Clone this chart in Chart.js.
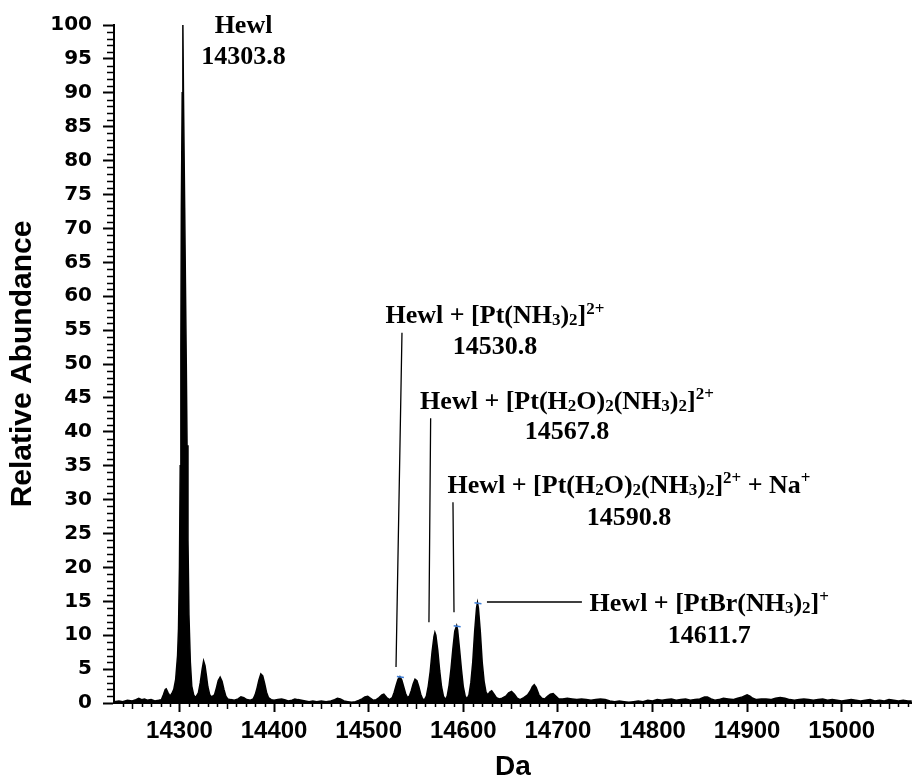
<!DOCTYPE html>
<html><head><meta charset="utf-8">
<script src="https://cdn.jsdelivr.net/npm/chart.js@4"></script>
<style>html,body{margin:0;padding:0;background:#fff}</style>
</head><body>
<canvas id="c" width="912" height="781"></canvas>
<script>
// ---- data ----
const massDa = [
14231,14236,14240,14245,14250,14254,14257,14260,14263,14266,14270,14274,14278,
14281,14283,14285,14286,14288,14290,14292,
14294,14296,14298,14299,14300,14300.8,14301.5,14302,14302.9,14303.6,14304.2,14305.5,14306.3,14307.2,14308,14309,14310,14311.5,14313,14315,14317,
14320,14322,14324,14325.5,14327,14328.5,14330,14332,14334,
14337,14339,14341,14343,14345,14347,14349,14351,14354,
14358,14362,14365,14368,14371,14375,
14378,14380,14382,14384,14386,14388,14390,14392,14394,14397,
14400,14404,14408,14411,14415,14419,14422,14425,14429,14433,14437,14441,14445,14450,14455,14460,14464,14467,14470,14474,14478,14482,14486,14490,
14493,14496,14499,14502,14505,14508,
14511,14514,14516,14519,14522,
14525,14527,14529,14531,14533,14535,14537,14539,14541,
14543,14545,14547,14549,14551,14553,14555,14557,14559,
14561,14563,14565,14567,14569,14570,14571,14573,14575,14577,14579,14581,
14583,14585,14587,14589,14591,14593,14594,14596,14598,14600,14602,14604,
14606,14608,14610,14612,14614,14615,14616,14618,14620,14622,14624,14626,
14628,14630,14632,14635,14638,14641,
14645,14648,14651,14654,14657,14660,14664,
14668,14671,14673,14675,14677,14680,14683,14686,14689,
14692,14695,14698,14701,14705,
14710,14715,14720,14725,14730,14735,14740,14745,14750,14755,14760,14765,14770,14775,14780,14785,14790,14795,14800,
14805,14810,14815,14820,14825,14830,14835,14840,14845,14850,14855,14858,14862,14866,14870,14875,14880,14885,14890,14895,
14900,14903,14906,14910,14915,14920,14925,14930,14935,14940,14945,14950,14955,14960,14965,14970,14975,14980,14985,14990,14995,
15000,15005,15010,15015,15020,15025,15030,15035,15040,15045,15050,15055,15060,15065,15070,15074
];
const abundance = [
0.2,0.3,0.2,0.4,0.3,0.5,0.7,0.5,0.6,0.4,0.5,0.3,0.4,
0.5,1.2,2.0,2.1,1.5,1.0,1.4,
2.0,3.5,7,11,20,35,52,73,90,100,90,73,62,50,38,24,13,6,2.5,1.2,0.8,
1.5,3.0,5.0,6.2,5.5,4.0,2.4,1.2,0.9,
1.2,2.2,3.3,3.8,3.2,2.0,1.0,0.6,0.5,
0.4,0.6,0.9,0.8,0.5,0.4,
0.6,1.2,2.2,3.4,4.3,4.0,2.9,1.6,0.8,0.5,
0.4,0.5,0.6,0.5,0.3,0.4,0.6,0.5,0.4,0.3,0.2,0.3,0.2,0.3,0.2,0.3,0.5,0.7,0.6,0.3,0.2,0.1,0.2,0.4,
0.6,0.9,1.0,0.7,0.4,0.5,
0.8,1.2,1.3,0.8,0.5,
0.8,1.6,2.6,3.5,3.9,3.4,2.4,1.4,0.8,
1.0,1.8,2.8,3.5,3.3,2.4,1.3,0.6,0.5,
1.0,2.5,4.6,7.5,9.8,10.4,10.0,7.8,4.8,2.4,1.0,0.5,
1.0,2.6,5.0,8.0,10.6,11.4,10.8,8.0,5.0,2.4,1.0,0.6,
1.2,3.0,6.0,10.5,14.0,14.8,14.0,10.5,6.0,3.2,1.6,1.2,
1.6,1.8,1.4,0.8,0.6,0.7,
1.0,1.5,1.7,1.3,0.7,0.5,0.8,
1.2,1.8,2.4,2.7,2.3,1.2,0.7,0.6,1.0,
1.3,1.4,1.0,0.6,0.6,
0.7,0.6,0.5,0.6,0.5,0.4,0.5,0.6,0.5,0.3,0.2,0.3,0.2,0.1,0.2,0.3,0.2,0.4,0.3,
0.5,0.4,0.5,0.6,0.4,0.5,0.6,0.4,0.5,0.6,0.9,0.9,0.6,0.4,0.5,0.7,0.6,0.5,0.7,0.9,
1.2,1.0,0.7,0.5,0.6,0.6,0.5,0.7,0.8,0.7,0.5,0.4,0.5,0.6,0.5,0.4,0.5,0.6,0.4,0.5,0.4,
0.3,0.4,0.5,0.4,0.3,0.4,0.5,0.3,0.4,0.3,0.5,0.4,0.3,0.4,0.3,0.3
];
const xTickValues = [14300,14400,14500,14600,14700,14800,14900,15000];
const yTickValues = [0,5,10,15,20,25,30,35,40,45,50,55,60,65,70,75,80,85,90,95,100];

// peak annotations: label lines and their labelled masses
const annLabels = [
  "Hewl",
  "Hewl + [Pt(NH_3)_2]^{2+}",
  "Hewl + [Pt(H_2O)_2(NH_3)_2]^{2+}",
  "Hewl + [Pt(H_2O)_2(NH_3)_2]^{2+} + Na^{+}",
  "Hewl + [PtBr(NH_3)_2]^{+}"
];
const annMasses = ["14303.8","14530.8","14567.8","14590.8","14611.7"];

// annotation placement (data space: Da, abundance)
const annPlace = [
  {cx:14367.7, y1:98.8, y2:94.2},
  {cx:14633.5, y1:56.0, y2:51.5},
  {cx:14709.6, y1:43.4, y2:38.9},
  {cx:14775.2, y1:31.0, y2:26.3},
  {cx:14860.0, y1:13.5, y2:8.8}
];
const leaderLines = [
  [[14535.2,54.6],[14528.9,5.3]],
  [[14565.5,42.0],[14563.7,11.9]],
  [[14589.1,29.6],[14590.2,13.4]],
  [[14625.0,14.9],[14725.4,14.9]]
];
const blueMarks = [[14533,3.9],[14593,11.4],[14615,14.8]];

// ---- helpers ----
function parseRich(s){
  const segs=[]; let i=0;
  while(i<s.length){
    const c=s[i];
    if(c==='_'){ segs.push({t:s[i+1],m:'sub'}); i+=2; }
    else if(c==='^'){ const j=s.indexOf('}',i); segs.push({t:s.slice(i+2,j),m:'sup'}); i=j+1; }
    else { let j=i; while(j<s.length && s[j]!=='_' && s[j]!=='^') j++; segs.push({t:s.slice(i,j),m:'n'}); i=j; }
  }
  return segs;
}
const SERIF='"Liberation Serif","Times New Roman",serif';
function drawRich(ctx,s,cx,by,size){
  const segs=parseRich(s);
  const fN='bold '+size+'px '+SERIF, fS='bold '+Math.round(size*0.66)+'px '+SERIF;
  let w=0;
  segs.forEach(g=>{ctx.font=g.m==='n'?fN:fS; g.w=ctx.measureText(g.t).width; w+=g.w;});
  let x=cx-w/2;
  segs.forEach(g=>{
    ctx.font=g.m==='n'?fN:fS;
    const dy=g.m==='sub'?2:(g.m==='sup'?-size*0.36:0);
    ctx.fillText(g.t,x,by+dy); x+=g.w;
  });
}

const extras = {
  id:'extras',
  afterDraw(chart){
    const {ctx,scales:{x,y},chartArea:a}=chart;
    ctx.save();
    // minor ticks
    ctx.strokeStyle='#000'; ctx.lineWidth=1.5;
    ctx.beginPath();
    for(let v=Math.ceil(x.min/10)*10; v<=x.max; v+=10){
      if(v%100===0) continue;
      const px=Math.round(x.getPixelForValue(v))+0.5;
      const len=(v%50===0)?6:4;
      ctx.moveTo(px,a.bottom); ctx.lineTo(px,a.bottom+len);
    }
    for(let v=1; v<100; v++){
      if(v%5===0) continue;
      const py=Math.round(y.getPixelForValue(v))+0.5;
      ctx.moveTo(a.left,py); ctx.lineTo(a.left-7,py);
    }
    ctx.stroke();
    // leader lines
    ctx.lineWidth=1.3;
    ctx.beginPath();
    leaderLines.forEach(l=>{
      ctx.moveTo(x.getPixelForValue(l[0][0]),y.getPixelForValue(l[0][1]));
      ctx.lineTo(x.getPixelForValue(l[1][0]),y.getPixelForValue(l[1][1]));
    });
    ctx.stroke();
    // blue peak marks
    ctx.strokeStyle='#3f7fd8'; ctx.lineWidth=1.5;
    ctx.beginPath();
    blueMarks.forEach(m=>{
      const px=x.getPixelForValue(m[0]), py=y.getPixelForValue(m[1]);
      ctx.moveTo(px-3,py); ctx.lineTo(px+4,py+1);
    });
    ctx.stroke();
    // labels
    ctx.fillStyle='#000'; ctx.textBaseline='alphabetic';
    annLabels.forEach((t,i)=>{
      const p=annPlace[i];
      const cx=x.getPixelForValue(p.cx);
      drawRich(ctx,t,cx,y.getPixelForValue(p.y1),26);
      drawRich(ctx,annMasses[i],cx,y.getPixelForValue(p.y2),26);
    });
    ctx.restore();
  }
};

const points = massDa.map((m,i)=>({x:m,y:abundance[i]}));

new Chart(document.getElementById('c'),{
  type:'line',
  data:{datasets:[{
    data:points,
    borderColor:'#000', backgroundColor:'#000', borderWidth:1.5,
    fill:'origin', pointRadius:0, tension:0
  }]},
  options:{
    responsive:false, animation:false, devicePixelRatio:1,
    layout:{padding:{top:25,right:0,left:0,bottom:0}},
    plugins:{legend:{display:false},tooltip:{enabled:false}},
    scales:{
      x:{
        type:'linear', min:14230.8, max:15074.3,
        afterFit(s){ s.height=78; },
        afterBuildTicks(s){ s.ticks=xTickValues.map(v=>({value:v})); },
        border:{display:true,color:'#000',width:2},
        grid:{display:true,drawOnChartArea:false,drawTicks:true,tickLength:9,tickWidth:2,tickColor:'#000'},
        ticks:{color:'#000',padding:5,maxRotation:0,autoSkip:false,
          font:{family:'"Liberation Sans",Arial,sans-serif',weight:'bold',size:24},
          callback:v=>String(v)},
        title:{display:true,text:'Da',color:'#000',padding:{top:0,bottom:0},
          font:{family:'"Liberation Sans",Arial,sans-serif',weight:'bold',size:28,lineHeight:1.0}}
      },
      y:{
        type:'linear', min:0, max:100,
        afterFit(s){ s.width=114; },
        afterBuildTicks(s){ s.ticks=yTickValues.map(v=>({value:v})); },
        border:{display:true,color:'#000',width:2},
        grid:{display:true,drawOnChartArea:false,drawTicks:true,tickLength:11,tickWidth:2,tickColor:'#000'},
        ticks:{color:'#000',padding:11,autoSkip:false,
          font:{family:'"DejaVu Sans",sans-serif',weight:'bold',size:20},
          callback:v=>String(v)},
        title:{display:true,text:'Relative Abundance',color:'#000',padding:{top:5,bottom:0},
          font:{family:'"Liberation Sans",Arial,sans-serif',weight:'bold',size:30}}
      }
    }
  },
  plugins:[extras]
});
</script>
</body></html>
